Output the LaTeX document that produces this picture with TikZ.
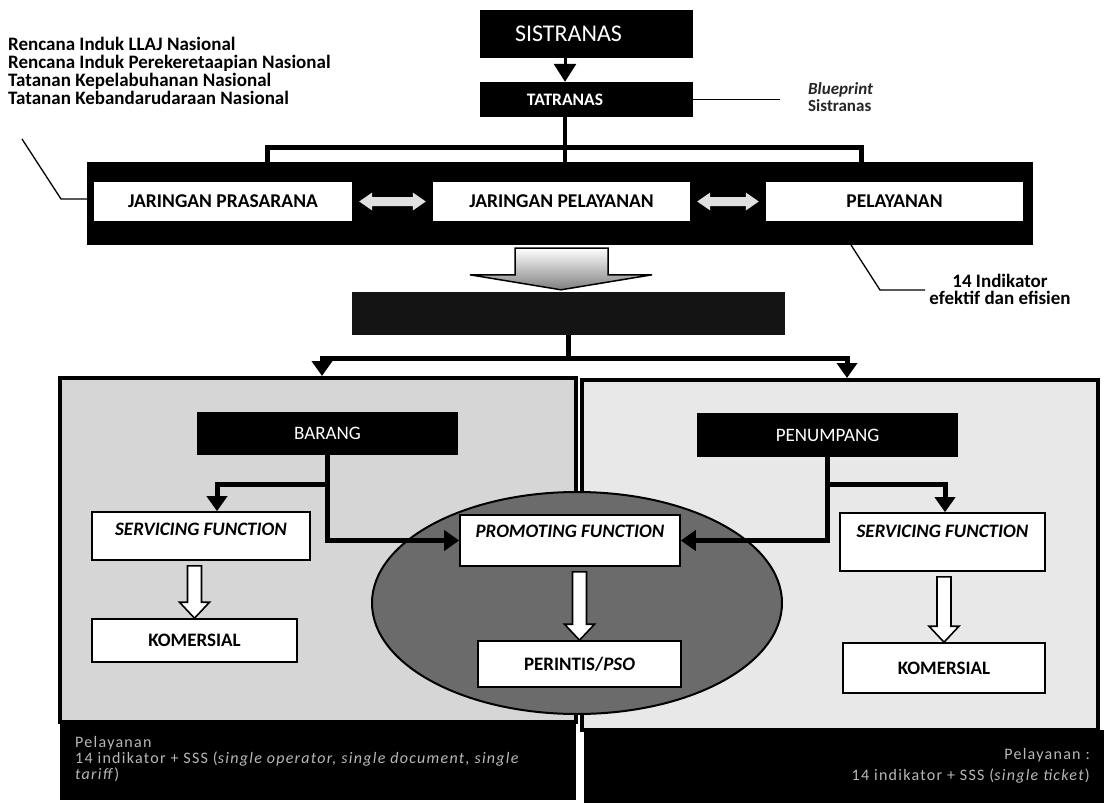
\documentclass[tikz,border=0pt]{standalone}
\usepackage{fontspec}
\setmainfont{Carlito}
\newfontfamily\footfont{Carlito}[LetterSpace=8]
\usetikzlibrary{arrows.meta,calc,shapes.geometric}
\newcommand\hollowdown[2]{%
  \draw[hollow] let \p1=(#1), \p2=(#2) in
    (\x2-7pt,\y1-5pt) -- (\x2+7pt,\y1-5pt) -- (\x2+7pt,\y2+16pt) -- (\x2+15pt,\y2+16pt)
    -- (\x2,\y2) -- (\x2-15pt,\y2+16pt) -- (\x2-7pt,\y2+16pt) -- cycle;}
\newcommand\dblarrow[2]{%
  \fill[dblfill] let \p1=(#1), \p2=(#2) in
    (\x1+7pt,\y1) -- (\x1+20pt,\y1+9pt) -- (\x1+20pt,\y1+4.5pt) -- (\x2-20pt,\y1+4.5pt)
    -- (\x2-20pt,\y1+9pt) -- (\x2-7pt,\y1) -- (\x2-20pt,\y1-9pt) -- (\x2-20pt,\y1-4.5pt)
    -- (\x1+20pt,\y1-4.5pt) -- (\x1+20pt,\y1-9pt) -- cycle;}
\begin{document}
\begin{tikzpicture}[x=1pt,y=-1pt,
  every node/.style={inner sep=0pt},
  lbl/.style={font=\fontsize{19}{22}\selectfont\bfseries},
  blkbox/.style={fill=black,text=white,font=\fontsize{19}{22}\selectfont},
  wbox/.style={draw=black,line width=1.6pt,fill=white,lbl},
  netbox/.style={fill=white,font=\fontsize{19.5}{22}\selectfont\bfseries},
  conn/.style={line width=5pt},
  arr/.style={conn,-{Triangle[length=15pt,width=20pt]}},
  lead/.style={line width=1.3pt},
  hollow/.style={draw=black,line width=1.6pt,fill=white},
  dblfill/.style={fill=white!88!black},
  foot/.style={text=white!72!black,font=\footfont\fontsize{16}{16}\selectfont},
]
\useasboundingbox (0,0) rectangle (1104,803);
\fill[white] (0,0) rectangle (1104,803);

% ---- top ----
\node[blkbox,minimum width=213,minimum height=48,font=\fontsize{24}{26}\selectfont] (sis) at (586.5,34) {SISTRANAS\hspace*{36pt}};
\node[blkbox,minimum width=213,minimum height=35,font=\fontsize{17.5}{20}\selectfont\bfseries] (tat) at (586.5,99.5) {TATRANAS\hspace*{43pt}};
\draw[line width=3pt,-{Triangle[length=18pt,width=22pt]}] ([xshift=-21.5pt]sis.south) -- ([xshift=-21.5pt]tat.north);

\node[anchor=north west,align=left,font=\fontsize{19}{18}\selectfont\bfseries] (rin) at (8,37)
  {Rencana Induk LLAJ Nasional\\Rencana Induk Perekeretaapian Nasional\\Tatanan Kepelabuhanan Nasional\\Tatanan Kebandarudaraan Nasional};
\node[anchor=north west,align=left,text=black!85,font=\fontsize{17}{17}\selectfont\bfseries] (bp) at (808,82)
  {\textit{Blueprint}\\Sistranas};
\coordinate (bpe) at (780,99.5);
\draw[lead] (tat.east) -- (bpe);

% ---- network band ----
\draw[line width=5pt,fill=white] (267.5,147.5) rectangle (861.5,180);
\node[fill=black,minimum width=946,minimum height=83] (net) at (560,203.5) {};
\draw[line width=4pt] ([xshift=-21.5pt]tat.south) -- ([xshift=-21.5pt]tat.south |- net.north);
\node[netbox,minimum width=258,minimum height=39] (jpr) at (223,201.5) {JARINGAN PRASARANA};
\node[netbox,minimum width=257,minimum height=39] (jpl) at (561.5,201.5) {JARINGAN PELAYANAN};
\node[netbox,minimum width=257,minimum height=39] (pel) at (894.5,201.5) {PELAYANAN};
\dblarrow{jpr.east}{jpl.west}
\dblarrow{jpl.east}{pel.west}

\coordinate (la) at (22,139); \coordinate (lb) at (61,199);
\draw[lead] (la) -- (lb) -- (lb -| net.west);
\node[align=center,font=\fontsize{19}{17}\selectfont\bfseries] (ind) at (1000,289) {14 Indikator\\efektif dan efisien};
\coordinate (ra) at (851,245); \coordinate (rb) at (880,290);
\draw[lead] (ra) -- (rb) -- ([xshift=-4pt]rb -| ind.west);

% ---- block arrow + banner ----
\node[fill=black!92,minimum width=433,minimum height=43] (ban) at (568.5,313.5) {};
\draw[line width=1.5pt,top color=white,bottom color=black!50] let \p1=(net.south), \p2=(ban.north) in
  (\x1-45pt,\y1-3pt) -- (\x1+48pt,\y1-3pt) -- (\x1+48pt,\y2+17pt) -- (\x1+92pt,\y2+17pt)
  -- (\x1+1pt,\y2+2pt) -- (\x1-90pt,\y2+17pt) -- (\x1-45pt,\y2+17pt) -- cycle;

% ---- panels ----
\node[draw,line width=4pt,fill=black!16,minimum width=516,minimum height=344] (lp) at (318,550) {};
\node[fill=black,minimum width=516,minimum height=78] (lf) at (318,761) {};
\node[draw,line width=4pt,fill=black!9,minimum width=516,minimum height=350] (rp) at (840,555) {};
\node[fill=black,minimum width=520,minimum height=73] (rf) at (844,766.5) {};

\coordinate (tl) at (322,358); \coordinate (tr) at (847,358);
\draw[conn] (ban.south) -- (ban.south |- tl);
\draw[conn,line cap=rect] (tl) -- (tr);
\draw[arr] (tl) -- (tl |- lp.north);
\draw[arr] (tr) -- (tr |- rp.north);

\node[ellipse,draw,line width=2pt,fill=black!58,minimum width=410,minimum height=222] (ell) at (577,603) {};

\node[blkbox,minimum width=261,minimum height=43] (bar) at (327.5,433.5) {BARANG};
\node[blkbox,minimum width=261,minimum height=44] (pen) at (827.5,435) {PENUMPANG};

\node[wbox,minimum width=218,minimum height=48,text depth=13pt] (sf1) at (201,536) {\itshape SERVICING FUNCTION};
\node[wbox,minimum width=205,minimum height=43] (km1) at (194.5,640.5) {KOMERSIAL};
\node[wbox,minimum width=220,minimum height=51,text depth=19pt] (pf) at (570,540.5) {\itshape PROMOTING FUNCTION};
\node[wbox,minimum width=203,minimum height=46] (ps) at (579.5,664) {PERINTIS/\textit{PSO}};
\node[wbox,minimum width=205,minimum height=58,text depth=22pt] (sf2) at (942.5,542) {\itshape SERVICING FUNCTION};
\node[wbox,minimum width=202,minimum height=50] (km2) at (944,668) {KOMERSIAL};

\coordinate (b1) at (217,484); \coordinate (b2) at (945,484);
\draw[arr] (bar.south) |- (pf.west);
\draw[arr] (bar.south |- b1) -- (b1) -- (b1 |- sf1.north);
\draw[arr] (pen.south) |- (pf.east);
\draw[arr] (pen.south |- b2) -- (b2) -- (b2 |- sf2.north);
\hollowdown{sf1.south}{km1.north}
\hollowdown{pf.south}{ps.north}
\hollowdown{sf2.south}{km2.north}

% ---- footers ----
\node[foot,anchor=north west,align=left] (lft) at (75,736)
  {Pelayanan\\14 indikator + SSS (\textit{single operator, single document, single}\\\textit{tariff})};
\node[foot,anchor=north east,align=right,font=\footfont\fontsize{16}{21}\selectfont] (rft) at (1090,748)
  {Pelayanan :\\14 indikator + SSS (\textit{single ticket})};
\end{tikzpicture}
\end{document}
